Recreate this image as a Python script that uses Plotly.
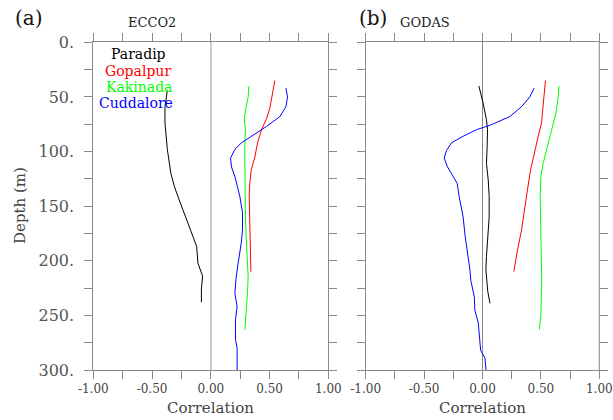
import plotly.graph_objects as go

# ---------------- data ----------------
stations = ["Paradip", "Gopalpur", "Kakinada", "Cuddalore"]
colors = ["#000000", "#ff0000", "#00ff00", "#0000ff"]

# ECCO2 (panel a)
ecco_paradip_depth = [44, 59, 74, 98, 120, 132, 144, 159, 169, 178, 187, 202, 214, 226, 238]
ecco_paradip_corr = [-0.37, -0.39, -0.39, -0.37, -0.34, -0.31, -0.27, -0.22, -0.18, -0.15, -0.12, -0.11, -0.07, -0.08, -0.08]

ecco_gopalpur_depth = [35, 50, 60, 70, 80, 92, 105, 117, 129, 141, 160, 178, 196, 210]
ecco_gopalpur_corr = [0.545, 0.517, 0.503, 0.474, 0.432, 0.398, 0.375, 0.344, 0.332, 0.327, 0.332, 0.332, 0.338, 0.341]

ecco_kakinada_depth = [40, 50, 62, 71, 80, 89, 110, 140, 160, 187, 214, 230, 245, 263]
ecco_kakinada_corr = [0.324, 0.318, 0.295, 0.284, 0.295, 0.290, 0.290, 0.290, 0.295, 0.304, 0.318, 0.312, 0.304, 0.290]

ecco_cuddalore_depth = [42, 50, 59, 68, 77, 83, 92, 98, 106, 114, 123, 141, 156, 172, 184, 202, 216, 230, 242, 254, 272, 280, 300]
ecco_cuddalore_corr = [0.639, 0.653, 0.639, 0.588, 0.474, 0.389, 0.261, 0.205, 0.168, 0.176, 0.205, 0.247, 0.270, 0.270, 0.259, 0.233, 0.215, 0.205, 0.224, 0.210, 0.210, 0.224, 0.224]

# GODAS (panel b)
godas_paradip_depth = [40, 56, 71, 80, 95, 111, 126, 141, 160, 178, 196, 208, 216, 228, 239]
godas_paradip_corr = [-0.031, 0.006, 0.034, 0.043, 0.040, 0.034, 0.049, 0.057, 0.057, 0.043, 0.034, 0.029, 0.034, 0.045, 0.064]

godas_gopalpur_depth = [35, 50, 62, 74, 86, 105, 117, 135, 153, 172, 190, 210]
godas_gopalpur_corr = [0.539, 0.528, 0.519, 0.505, 0.477, 0.434, 0.411, 0.385, 0.360, 0.334, 0.300, 0.268]

godas_kakinada_depth = [40, 50, 65, 80, 95, 111, 123, 141, 160, 178, 202, 218, 248, 263]
godas_kakinada_corr = [0.654, 0.648, 0.628, 0.591, 0.554, 0.519, 0.499, 0.494, 0.497, 0.502, 0.508, 0.507, 0.500, 0.487]

godas_cuddalore_depth = [42, 50, 59, 68, 76, 80, 86, 92, 99, 106, 114, 123, 129, 141, 160, 178, 190, 208, 218, 233, 245, 257, 282, 289, 300]
godas_cuddalore_corr = [0.442, 0.405, 0.334, 0.234, 0.063, -0.051, -0.166, -0.265, -0.308, -0.328, -0.300, -0.251, -0.217, -0.200, -0.166, -0.148, -0.131, -0.108, -0.100, -0.070, -0.066, -0.036, -0.016, 0.021, 0.030]

x_tickvals = [-1.0, -0.75, -0.5, -0.25, 0.0, 0.25, 0.5, 0.75, 1.0]
x_ticktext = ["-1.00", "", "-0.50", "", "0.00", "", "0.50", "", "1.00"]
y_tickvals = [0, 25, 50, 75, 100, 125, 150, 175, 200, 225, 250, 275, 300]
y_ticktext = ["0.", "", "50.", "", "100.", "", "150.", "", "200.", "", "250.", "", "300."]

panel_titles = ["ECCO2", "GODAS"]
panel_labels = ["(a)", "(b)"]
x_title = "Correlation"
y_title = "Depth (m)"

# ---------------- figure ----------------
W, H = 613, 420
FONT = "DejaVu Serif, Liberation Serif, serif"
fig = go.Figure()

ecco = [(ecco_paradip_corr, ecco_paradip_depth), (ecco_gopalpur_corr, ecco_gopalpur_depth),
        (ecco_kakinada_corr, ecco_kakinada_depth), (ecco_cuddalore_corr, ecco_cuddalore_depth)]
godas = [(godas_paradip_corr, godas_paradip_depth), (godas_gopalpur_corr, godas_gopalpur_depth),
         (godas_kakinada_corr, godas_kakinada_depth), (godas_cuddalore_corr, godas_cuddalore_depth)]

for (xv, yv), name, c in zip(ecco, stations, colors):
    fig.add_trace(go.Scatter(x=xv, y=yv, mode="lines", name=name, line=dict(color=c, width=1),
                             xaxis="x", yaxis="y", showlegend=False))
for (xv, yv), name, c in zip(godas, stations, colors):
    fig.add_trace(go.Scatter(x=xv, y=yv, mode="lines", name=name, line=dict(color=c, width=1),
                             xaxis="x2", yaxis="y2", showlegend=False))

axcol = "#8a8a8a"
tickfont_x = dict(family=FONT, size=12, color="#444444")
common_x = dict(range=[-1, 1], tickmode="array", tickvals=x_tickvals, ticktext=x_ticktext,
                ticks="outside", ticklen=8, tickcolor=axcol, tickwidth=1, showgrid=False,
                showline=True, linecolor=axcol, linewidth=1, mirror="ticks", automargin=False,
                tickfont=tickfont_x, zeroline=True)
common_y = dict(range=[300, 0], tickmode="array", tickvals=y_tickvals, ticktext=y_ticktext,
                ticks="outside", ticklen=8, tickcolor=axcol, tickwidth=1, showgrid=False,
                showline=True, linecolor=axcol, linewidth=1, mirror="ticks", zeroline=False,
                automargin=False, tickfont=dict(family=FONT, size=16, color="#555555"))

xa = (93.3 / W, 328.3 / W)
xb = (365.7 / W, 599.3 / W)
yd = (1 - 370 / H, 1 - 42.3 / H)

fig.update_layout(
    template="none",
    width=W, height=H, autosize=False,
    margin=dict(l=0, r=0, t=0, b=0, pad=0),
    paper_bgcolor="white", plot_bgcolor="white",
    font=dict(family=FONT),
    xaxis=dict(domain=xa, anchor="y", zerolinecolor="#cccccc", zerolinewidth=2, **common_x),
    yaxis=dict(domain=yd, anchor="x", ticklabelstandoff=7, **common_y),
    xaxis2=dict(domain=xb, anchor="y2", zerolinecolor="#888888", zerolinewidth=1, **common_x),
    yaxis2=dict(domain=yd, anchor="x2", showticklabels=False, **common_y),
)

# light grey right edge of panel (b)
fig.add_shape(type="line", xref="x2", yref="y2", x0=1, x1=1, y0=0, y1=300,
              line=dict(color="#d0d0d0", width=2), layer="above")

def px(x, y):
    return x / W, 1 - y / H

ann = []
# legend text (panel a)
leg_pos = [(138, 54), (138, 71), (138.5, 87), (135.5, 103)]
for name, c, (lx, ly) in zip(stations, colors, leg_pos):
    x, y = px(lx, ly)
    ann.append(dict(text=name, x=x, y=y, xref="paper", yref="paper", xanchor="center", yanchor="middle",
                    showarrow=False, font=dict(family=FONT, size=14, color=c)))
# panel labels and titles
for lab, (lx, ly) in zip(panel_labels, [(29, 18), (373, 18)]):
    x, y = px(lx, ly)
    ann.append(dict(text=lab, x=x, y=y, xref="paper", yref="paper", xanchor="center", yanchor="middle",
                    showarrow=False, font=dict(family=FONT, size=20, color="#111111")))
for t, (lx, ly) in zip(panel_titles, [(152, 22), (425, 22)]):
    x, y = px(lx, ly)
    ann.append(dict(text=t, x=x, y=y, xref="paper", yref="paper", xanchor="center", yanchor="middle",
                    showarrow=False, font=dict(family=FONT, size=13, color="#222222")))
# axis titles
for cx in [(93.3 + 328.3) / 2, (365.7 + 599.3) / 2]:
    x, y = px(cx, 408)
    ann.append(dict(text=x_title, x=x, y=y, xref="paper", yref="paper", xanchor="center", yanchor="middle",
                    showarrow=False, font=dict(family=FONT, size=15, color="#444444")))
x, y = px(20, 206)
ann.append(dict(text=y_title, x=x, y=y, xref="paper", yref="paper", xanchor="center", yanchor="middle",
                textangle=-90, showarrow=False, font=dict(family=FONT, size=15, color="#444444")))
fig.update_layout(annotations=ann)

fig.write_html("out.html")
